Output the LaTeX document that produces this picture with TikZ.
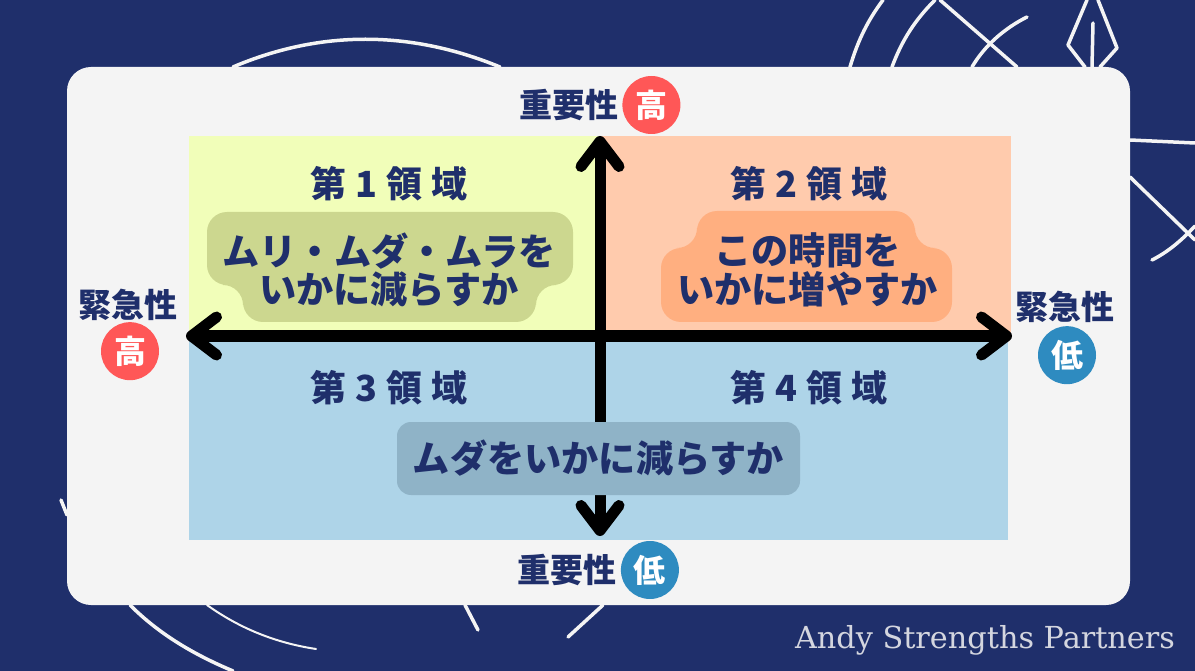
\documentclass[tikz,border=0pt]{standalone}
\usepackage{fontspec}
\setmainfont{Noto Sans CJK JP}
\newfontfamily\markfont{DejaVu Serif}
\usetikzlibrary{arrows.meta,positioning}
\definecolor{navy}{HTML}{1F2F6B}
\definecolor{panelgray}{HTML}{F4F4F4}
\definecolor{areaone}{HTML}{F1FEB9}
\definecolor{areatwo}{HTML}{FFCBAD}
\definecolor{areathree}{HTML}{AED4E8}
\definecolor{blobone}{HTML}{CCD78F}
\definecolor{blobtwo}{HTML}{FFAF80}
\definecolor{blobthree}{HTML}{8FB3C7}
\definecolor{hot}{HTML}{FF5757}
\definecolor{cold}{HTML}{2E8BC0}
\newcommand{\areaname}[1]{第\hspace{9pt}#1\hspace{9pt}領\hspace{9pt}域}
\tikzset{
    %Define standard arrow tip
    >={Straight Barb[length=25pt,width=38pt,round]},
    %Define style for background strokes
    sketch/.style={
           draw=panelgray,
           line width=3.5pt,
           line cap=round,
           line join=round},
    %Define style for area titles
    areatitle/.style={
           text=navy,
           font=\fontsize{36}{40}\selectfont\bfseries,
           inner sep=0pt},
    %Define style for texts on the blobs
    blobtext/.style={
           text=navy,
           align=center,
           font=\fontsize{37.2}{38.5}\selectfont\bfseries,
           inner sep=0pt},
    %Define style for axis names
    axisname/.style={
           text=navy,
           font=\fontsize{33}{36}\selectfont\bfseries,
           inner sep=0pt},
    %Define style for the round badges
    badge/.style={
           circle,
           minimum size=58pt,
           inner sep=0pt,
           text=white,
           font=\fontsize{32}{36}\selectfont\bfseries},
    % Define arrow style
    pil/.style={
           <->,
           line width=11pt,
           line cap=round}
}
\begin{document}
\begin{tikzpicture}[x=1pt,y=-1pt,node distance=5pt]
\useasboundingbox (0,0) rectangle (1195,671);
\fill[navy] (0,0) rectangle (1195,671);

% background strokes
\draw[sketch] (233,67) .. controls (320,30) and (410,30) .. (500,67);
\draw[sketch] (61,500) -- (67,515);
\draw[sketch] (130,605) .. controls (160,635) and (195,655) .. (233,671);
\draw[sketch,line width=2pt] (207,605) .. controls (235,625) and (270,642) .. (316,649);
\draw[sketch] (465,605) -- (478,630);
\draw[sketch] (603,605) -- (568,637);
\draw[sketch] (850,67) .. controls (858,40) and (868,20) .. (883,0);
\draw[sketch] (892,67) .. controls (902,40) and (915,20) .. (935,0);
\draw[sketch] (940,0) -- (1017,67);
\draw[sketch] (972,67) .. controls (985,45) and (1005,28) .. (1027,17);
\draw[sketch] (1087,0) -- (1068,45) -- (1085,67);
\draw[sketch] (1098,0) -- (1117,48) -- (1100,67);
\draw[sketch] (1093,23) -- (1092,67);
\draw[sketch] (1130,140) -- (1195,143);
\draw[sketch] (1130,177) -- (1195,240);
\draw[sketch] (1152,260) .. controls (1168,252) and (1182,240) .. (1195,226);

% panel and areas
\fill[panelgray,rounded corners=24pt] (67,67) rectangle (1130,605);
\fill[areaone] (188.5,136) rectangle (600,333);
\fill[areatwo] (600,136) rectangle (1011,333);
\fill[areathree] (188.5,340) rectangle (1008,540);

% blobs
\fill[blobone,rounded corners=20pt] (207,212) -- (573,212) -- (573,285) -- (536,285)
  -- (536,322) -- (243,322) -- (243,285) -- (207,285) -- cycle;
\fill[blobtwo,rounded corners=20pt] (697,211) -- (915,211) -- (915,248) -- (952,248)
  -- (952,322) -- (661,322) -- (661,248) -- (697,248) -- cycle;

% axes
\coordinate (upTip) at (600,136);
\coordinate (downTip) at (600,536);
\coordinate (leftTip) at (186,336);
\coordinate (rightTip) at (1012,336);
\draw[pil] (downTip) -- (upTip);
\draw[pil] (leftTip) -- (rightTip);

\node[fill=blobthree,rounded corners=14pt,minimum width=403pt,minimum height=73pt,
  blobtext] (murablob) at (598.5,458.5) {\raisebox{-2pt}{ムダをいかに減らすか}};

% area titles
\node[areatitle] (area1) at (389,184) {\areaname{1}};
\node[areatitle] (area2) at (809,184) {\areaname{2}};
\node[areatitle] (area3) at (389,388) {\areaname{3}};
\node[areatitle] (area4) at (809,388) {\areaname{4}};

\node[blobtext] (blob1) at (389,270) {ムリ・ムダ・ムラを\\いかに減らすか};
\node[blobtext] (blob2) at (807.5,270) {この時間を\\いかに増やすか};

% axis names
\node[axisname] (topname) at (568.5,105) {重要性};
\node[badge,fill=hot,right=4pt of topname] (topbadge) {高};
\node[axisname] (bottomname) at (567,570) {重要性};
\node[badge,fill=cold,right=4pt of bottomname] (bottombadge) {低};
\node[axisname] (leftname) at (128,305) {緊急性};
\node[badge,fill=hot,below=1pt of leftname,xshift=2pt] (leftbadge) {高};
\node[axisname] (rightname) at (1065,307) {緊急性};
\node[badge,fill=cold,below=3pt of rightname,xshift=2pt] (rightbadge) {低};

\node[text=panelgray!85!navy,inner sep=0pt,font=\fontsize{30.3}{32}\selectfont\markfont] (brand) at (985,640) {Andy Strengths Partners};
\end{tikzpicture}
\end{document}
